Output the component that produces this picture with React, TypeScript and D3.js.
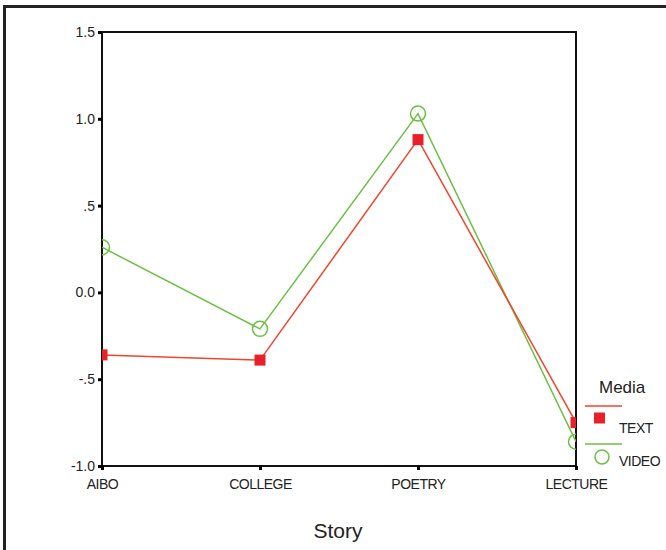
import React, { useEffect, useRef } from 'react';
import * as d3 from 'd3';

const stories = ['AIBO', 'COLLEGE', 'POETRY', 'LECTURE'];
const textValues = [-0.36, -0.39, 0.88, -0.75];
const videoValues = [0.26, -0.21, 1.03, -0.86];
const yTicks = [1.5, 1.0, 0.5, 0.0, -0.5, -1.0];
const yTickLabels = ['1.5', '1.0', '.5', '0.0', '-.5', '-1.0'];

const width = 666;
const height = 550;
const margin = { top: 32, right: 90, bottom: 84, left: 102 };

const App: React.FC = () => {
  const svgRef = useRef<SVGSVGElement>(null);

  useEffect(() => {
    if (!svgRef.current) return;
    d3.select(svgRef.current).selectAll('*').remove();

    const svg = d3.select(svgRef.current)
      .attr('width', width)
      .attr('height', height)
      .style('font-family', 'Liberation Sans, Arial, sans-serif');

    const x = d3.scalePoint<string>()
      .domain(stories)
      .range([margin.left, width - margin.right]);

    const y = d3.scaleLinear()
      .domain([-1.0, 1.5])
      .range([height - margin.bottom, margin.top]);

    // Outer frame (top and left only visible)
    svg.append('path')
      .attr('d', `M4.5,${height} L4.5,6.5 L${width},6.5`)
      .attr('fill', 'none')
      .attr('stroke', '#222')
      .attr('stroke-width', 3);

    // Plot box
    svg.append('rect')
      .attr('x', margin.left)
      .attr('y', margin.top)
      .attr('width', width - margin.right - margin.left)
      .attr('height', height - margin.bottom - margin.top)
      .attr('fill', 'none')
      .attr('stroke', '#111')
      .attr('stroke-width', 2);

    // Y axis
    const yAxis = svg.append('g')
      .attr('transform', `translate(${margin.left},0)`)
      .call(d3.axisLeft(y).tickValues(yTicks).tickSize(4)
        .tickFormat((d, i) => yTickLabels[i]));
    yAxis.select('.domain').remove();
    yAxis.selectAll('line').attr('stroke', '#000').attr('stroke-width', 3);
    yAxis.selectAll('text')
      .attr('x', -7)
      .style('font-size', '14px')
      .style('font-family', 'Liberation Sans, Arial, sans-serif')
      .attr('fill', '#222');

    // X axis
    const xAxis = svg.append('g')
      .attr('transform', `translate(0,${height - margin.bottom})`)
      .call(d3.axisBottom(x).tickSize(4));
    xAxis.select('.domain').remove();
    xAxis.selectAll('line').attr('stroke', '#000').attr('stroke-width', 3);
    xAxis.selectAll('text')
      .attr('y', 13)
      .style('font-size', '14px')
      .style('letter-spacing', '-0.5px')
      .style('font-family', 'Liberation Sans, Arial, sans-serif')
      .attr('fill', '#222');

    // X title
    svg.append('text')
      .attr('x', 338)
      .attr('y', 538)
      .attr('text-anchor', 'middle')
      .style('font-size', '21px')
      .attr('fill', '#222')
      .text('Story');

    // Clip to plot area
    svg.append('clipPath')
      .attr('id', 'plot-clip')
      .append('rect')
      .attr('x', margin.left)
      .attr('y', margin.top)
      .attr('width', width - margin.right - margin.left)
      .attr('height', height - margin.bottom - margin.top);

    const plot = svg.append('g').attr('clip-path', 'url(#plot-clip)');

    const line = d3.line<number>()
      .x((d, i) => x(stories[i]) as number)
      .y(d => y(d));

    plot.append('path')
      .datum(videoValues)
      .attr('fill', 'none')
      .attr('stroke', '#6cbf45')
      .attr('stroke-width', 1.5)
      .attr('d', line);

    plot.append('path')
      .datum(textValues)
      .attr('fill', 'none')
      .attr('stroke', '#f0452c')
      .attr('stroke-width', 1.5)
      .attr('d', line);

    plot.selectAll('.video-dot')
      .data(videoValues)
      .enter()
      .append('circle')
      .attr('class', 'video-dot')
      .attr('cx', (d, i) => x(stories[i]) as number)
      .attr('cy', d => y(d))
      .attr('r', 7.5)
      .attr('fill', 'none')
      .attr('stroke', '#6cbf45')
      .attr('stroke-width', 1.5);

    plot.selectAll('.text-dot')
      .data(textValues)
      .enter()
      .append('rect')
      .attr('class', 'text-dot')
      .attr('x', (d, i) => (x(stories[i]) as number) - 5.5)
      .attr('y', d => y(d) - 5.5)
      .attr('width', 11)
      .attr('height', 11)
      .attr('fill', '#e8202a');

    // Legend
    const legend = svg.append('g');

    legend.append('text')
      .attr('x', 599)
      .attr('y', 393)
      .style('font-size', '17px')
      .attr('fill', '#222')
      .text('Media');

    legend.append('line')
      .attr('x1', 585).attr('x2', 622)
      .attr('y1', 406).attr('y2', 406)
      .attr('stroke', '#f0452c')
      .attr('stroke-width', 1.5);

    legend.append('rect')
      .attr('x', 594).attr('y', 412.5)
      .attr('width', 11).attr('height', 11)
      .attr('fill', '#e8202a');

    legend.append('text')
      .attr('x', 619)
      .attr('y', 433)
      .style('font-size', '14px')
      .style('letter-spacing', '-0.5px')
      .attr('fill', '#222')
      .text('TEXT');

    legend.append('line')
      .attr('x1', 585).attr('x2', 622)
      .attr('y1', 444).attr('y2', 444)
      .attr('stroke', '#6cbf45')
      .attr('stroke-width', 1.5);

    legend.append('circle')
      .attr('cx', 602).attr('cy', 457)
      .attr('r', 7)
      .attr('fill', 'none')
      .attr('stroke', '#6cbf45')
      .attr('stroke-width', 1.5);

    legend.append('text')
      .attr('x', 619)
      .attr('y', 466)
      .style('font-size', '14px')
      .style('letter-spacing', '-0.5px')
      .attr('fill', '#222')
      .text('VIDEO');
  }, []);

  return (
    <div style={{ position: 'absolute', left: 0, top: 0, background: '#fff' }}>
      <svg ref={svgRef} style={{ display: 'block' }}></svg>
    </div>
  );
};

export default App;
